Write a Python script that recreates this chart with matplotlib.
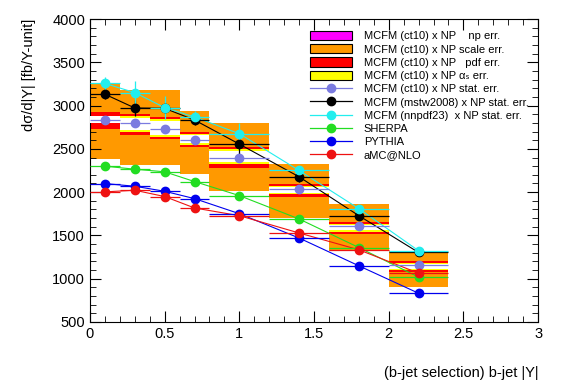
import matplotlib
matplotlib.use("Agg")
import matplotlib.pyplot as plt
from matplotlib.patches import Patch
from matplotlib.lines import Line2D
from matplotlib.ticker import MultipleLocator

plt.rcParams['font.family'] = ['Liberation Sans', 'DejaVu Sans']

# bins in |Y|
bin_lo = [0.0, 0.2, 0.4, 0.6, 0.8, 1.2, 1.6, 2.0]
bin_hi = [0.2, 0.4, 0.6, 0.8, 1.2, 1.6, 2.0, 2.4]
y_center = [0.1, 0.3, 0.5, 0.7, 1.0, 1.4, 1.8, 2.2]

# MCFM (ct10) x NP uncertainty bands
scale_lo = [2386, 2308, 2319, 2204, 2010, 1702, 1315, 909]
scale_hi = [3255, 3177, 3181, 2937, 2803, 2328, 1867, 1323]
pdf_lo = [2733, 2659, 2612, 2520, 2281, 1945, 1520, 1076]
pdf_hi = [2930, 2899, 2868, 2694, 2520, 2096, 1655, 1199]
alphas_lo = [2803, 2700, 2640, 2550, 2328, 1975, 1545, 1095]
alphas_hi = [2879, 2878, 2840, 2668, 2493, 2070, 1632, 1180]
np_lo = [2803, 2720, 2660, 2565, 2350, 1990, 1565, 1110]
np_hi = [2879, 2860, 2825, 2655, 2470, 2055, 1615, 1170]

# predictions
ct10 = [2833, 2795, 2733, 2606, 2397, 2041, 1605, 1160]
ct10_err = [30, 40, 40, 30, 50, 40, 30, 30]
mstw = [3131, 2972, 2968, 2833, 2555, 2177, 1728, 1303]
mstw_err = [60, 95, 40, 60, 115, 60, 40, 30]
nnpdf = [3255, 3150, 2976, 2868, 2675, 2250, 1809, 1323]
nnpdf_err = [80, 135, 135, 70, 125, 50, 40, 30]
sherpa = [2300, 2265, 2235, 2122, 1960, 1690, 1360, 1018]
pythia = [2099, 2068, 2010, 1925, 1751, 1470, 1149, 832]
amcnlo = [2003, 2022, 1949, 1817, 1728, 1528, 1334, 1064]

fig = plt.figure(figsize=(5.67, 3.84), dpi=100)
ax = fig.add_axes([0.1587, 0.1615, 0.7903, 0.789])

half = [(h - l) / 2 for l, h in zip(bin_lo, bin_hi)]
width = [h - l for l, h in zip(bin_lo, bin_hi)]

def band(lo, hi, color, z):
    ax.bar(bin_lo, [h - l for l, h in zip(lo, hi)], width=width, bottom=lo,
           align='edge', color=color, linewidth=0, zorder=z)

band(scale_lo, scale_hi, '#ff9900', 1)
band(pdf_lo, pdf_hi, '#ff0000', 2)
band(alphas_lo, alphas_hi, '#ffff00', 3)
band(np_lo, np_hi, 'white', 4)

series = [
    (ct10, ct10_err, '#7b7be0', False),
    (mstw, mstw_err, 'black', True),
    (nnpdf, nnpdf_err, '#22eeee', True),
    (sherpa, None, '#22dd22', True),
    (pythia, None, '#0000ee', True),
    (amcnlo, None, '#ee1111', True),
]
for vals, err, col, joined in series:
    if joined:
        ax.plot(y_center, vals, color=col, lw=0.8, zorder=5)
    ax.errorbar(y_center, vals, xerr=half, yerr=err, fmt='o', color=col,
                ms=6, elinewidth=0.9, capsize=0, zorder=6)

ax.set_xlim(0, 3)
ax.set_ylim(500, 4000)
ax.xaxis.set_major_locator(MultipleLocator(0.5))
ax.xaxis.set_minor_locator(MultipleLocator(0.1))
ax.yaxis.set_major_locator(MultipleLocator(500))
ax.yaxis.set_minor_locator(MultipleLocator(100))
ax.tick_params(which='both', direction='in', top=True, right=True, labelsize=10.5)
ax.tick_params(which='major', length=8)
ax.tick_params(which='minor', length=4)
ax.set_xticks([0, 0.5, 1, 1.5, 2, 2.5, 3])
ax.set_xticklabels(['0', '0.5', '1', '1.5', '2', '2.5', '3'])

ax.set_xlabel('(b-jet selection) b-jet |Y|', fontsize=10.5, loc='right', labelpad=18)
ax.set_ylabel('dσ/d|Y| [fb/Y-unit]', fontsize=10.5, loc='top', labelpad=12)

handles = [
    Patch(facecolor='#ff00ff', edgecolor='black', lw=0.8),
    Patch(facecolor='#ff9900', edgecolor='black', lw=0.8),
    Patch(facecolor='#ff0000', edgecolor='black', lw=0.8),
    Patch(facecolor='#ffff00', edgecolor='black', lw=0.8),
    Line2D([], [], color='#7b7be0', marker='o', ms=6, lw=0.9),
    Line2D([], [], color='black', marker='o', ms=6, lw=0.9),
    Line2D([], [], color='#22eeee', marker='o', ms=6, lw=0.9),
    Line2D([], [], color='#22dd22', marker='o', ms=6, lw=0.9),
    Line2D([], [], color='#0000ee', marker='o', ms=6, lw=0.9),
    Line2D([], [], color='#ee1111', marker='o', ms=6, lw=0.9),
]
labels = [
    'MCFM (ct10) x NP    np err.',
    'MCFM (ct10) x NP scale err.',
    'MCFM (ct10) x NP   pdf err.',
    'MCFM (ct10) x NP αₛ err.',
    'MCFM (ct10) x NP stat. err.',
    'MCFM (mstw2008) x NP stat. err.',
    'MCFM (nnpdf23)  x NP stat. err.',
    'SHERPA',
    'PYTHIA',
    'aMC@NLO',
]
ax.legend(handles, labels, loc='upper left', bbox_to_anchor=(0.48, 0.975),
          frameon=False, fontsize=8, handlelength=3.8, handleheight=0.9,
          labelspacing=0.25, borderaxespad=0, handletextpad=1.1)

fig.savefig('out.png', dpi=100)
